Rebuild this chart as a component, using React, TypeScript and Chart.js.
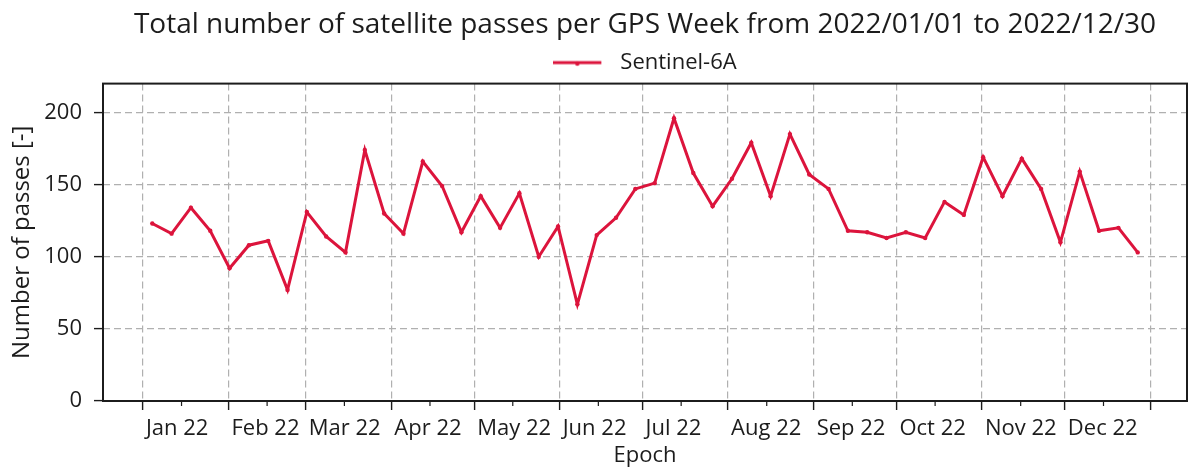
import React, { useEffect, useRef } from "react";
import { Chart, registerables } from "chart.js";

Chart.register(...registerables);

// GPS weeks covered (week 2191 starts on 2022-01-02)
const gpsWeeks = [
  2191, 2192, 2193, 2194, 2195, 2196, 2197, 2198, 2199, 2200,
  2201, 2202, 2203, 2204, 2205, 2206, 2207, 2208, 2209, 2210,
  2211, 2212, 2213, 2214, 2215, 2216, 2217, 2218, 2219, 2220,
  2221, 2222, 2223, 2224, 2225, 2226, 2227, 2228, 2229, 2230,
  2231, 2232, 2233, 2234, 2235, 2236, 2237, 2238, 2239, 2240,
  2241, 2242,
];

// Sentinel-6A passes per GPS week
const sentinel6aPasses = [
  123, 116, 134, 118, 92, 108, 111, 77, 131, 114,
  103, 174, 130, 116, 166, 149, 117, 142, 120, 144,
  100, 121, 67, 115, 127, 147, 151, 196, 158, 135,
  154, 179, 142, 185, 157, 147, 118, 117, 113, 117,
  113, 138, 129, 169, 142, 168, 147, 110, 159, 118,
  120, 103,
];

// x axis in days since 2022-01-01
const FIRST_WEEK = 2191;
const EPOCH_OFFSET_DAYS = 3.4; // plotted epoch of first week, days after 2022-01-01
const monthTickDays = [0, 31, 59, 90, 120, 151, 181, 212, 243, 273, 304, 334, 365];
const monthTickLabels = [
  "Jan 22", "Feb 22", "Mar 22", "Apr 22", "May 22", "Jun 22",
  "Jul 22", "Aug 22", "Sep 22", "Oct 22", "Nov 22", "Dec 22", "",
];
const minorTickDays = [14, 45, 73, 104, 134, 165, 195, 226, 257, 287, 318, 348];

const Y_MIN = 0;
const Y_MAX = 220;
const Y_STEP = 50;

const TITLE = "Total number of satellite passes per GPS Week from 2022/01/01 to 2022/12/30";
const SERIES_NAME = "Sentinel-6A";
const LINE_COLOR = "#dc143c";
const TEXT_COLOR = "#1c1c1c";
const FONT = "'Open Sans', 'Noto Sans', sans-serif";

function makeLegendGlyph(): HTMLCanvasElement {
  const c = document.createElement("canvas");
  c.width = 56;
  c.height = 12;
  const ctx = c.getContext("2d")!;
  ctx.strokeStyle = LINE_COLOR;
  ctx.lineWidth = 3;
  ctx.beginPath();
  ctx.moveTo(0, 6);
  ctx.lineTo(48, 6);
  ctx.stroke();
  ctx.fillStyle = LINE_COLOR;
  ctx.beginPath();
  ctx.arc(24, 7, 2.2, 0, Math.PI * 2);
  ctx.fill();
  return c;
}

const frameAndMinorTicks = {
  id: "frameAndMinorTicks",
  afterDraw(chart: any) {
    const { ctx, chartArea } = chart;
    const xScale = chart.scales.x;
    ctx.save();
    ctx.strokeStyle = TEXT_COLOR;
    ctx.lineWidth = 1.2;
    ctx.beginPath();
    for (const d of minorTickDays) {
      const px = xScale.getPixelForValue(d);
      if (px < chartArea.left || px > chartArea.right) continue;
      ctx.moveTo(px, chartArea.bottom);
      ctx.lineTo(px, chartArea.bottom + 5);
    }
    ctx.stroke();
    ctx.lineWidth = 2;
    ctx.strokeRect(chartArea.left, chartArea.top, chartArea.right - chartArea.left, chartArea.bottom - chartArea.top);
    ctx.restore();
  },
};

export default function App() {
  const canvasRef = useRef<HTMLCanvasElement | null>(null);

  useEffect(() => {
    let chart: Chart | null = null;
    let cancelled = false;
    const build = () => {
      if (cancelled || !canvasRef.current) return;
      const points = gpsWeeks.map((w, i) => ({
        x: (w - FIRST_WEEK) * 7 + EPOCH_OFFSET_DAYS,
        y: sentinel6aPasses[i],
      }));
      const xFirst = points[0].x;
      const xLast = points[points.length - 1].x;
      const margin = (xLast - xFirst) * 0.05;
      const glyph = makeLegendGlyph();

      chart = new Chart(canvasRef.current, {
        type: "line",
        data: {
          datasets: [
            {
              label: SERIES_NAME,
              data: points,
              borderColor: LINE_COLOR,
              backgroundColor: LINE_COLOR,
              borderWidth: 3,
              pointRadius: 2.2,
              pointBorderWidth: 0,
              pointBackgroundColor: LINE_COLOR,
              tension: 0,
              fill: false,
            },
          ],
        },
        options: {
          animation: false,
          responsive: true,
          maintainAspectRatio: false,
          layout: { padding: { left: 8, right: 5, top: 0, bottom: 0 } },
          plugins: {
            title: {
              display: true,
              text: TITLE,
              fullSize: false,
              color: TEXT_COLOR,
              font: { family: FONT, size: 28, weight: "normal" },
              padding: { top: 8, bottom: 0 },
            },
            legend: {
              display: true,
              fullSize: false,
              position: "top",
              labels: {
                color: TEXT_COLOR,
                font: { family: FONT, size: 22 },
                usePointStyle: true,
                pointStyleWidth: 56,
                padding: 10,
                generateLabels: (c: any) => {
                  const items = (Chart as any).defaults.plugins.legend.labels.generateLabels(c);
                  return items.map((it: any) => ({ ...it, pointStyle: glyph }));
                },
              },
            },
            tooltip: { enabled: false },
          },
          scales: {
            x: {
              type: "linear",
              min: xFirst - margin,
              max: xLast + margin,
              afterBuildTicks: (scale: any) => {
                scale.ticks = monthTickDays.map((v) => ({ value: v }));
              },
              afterFit: (scale: any) => {
                scale.height = 69;
              },
              ticks: {
                autoSkip: false,
                maxRotation: 0,
                minRotation: 0,
                align: "start",
                labelOffset: 3,
                padding: 6,
                color: TEXT_COLOR,
                font: { family: FONT, size: 22 },
                callback: (_v: any, i: number) => monthTickLabels[i] ?? "",
              },
              grid: {
                color: "#b0b0b0",
                lineWidth: 1.2,
                drawTicks: true,
                tickLength: 9,
                tickColor: TEXT_COLOR,
                tickWidth: 1.4,
                tickBorderDash: [],
              },
              border: { display: false, dash: [7, 4] },
              title: {
                display: true,
                text: "Epoch",
                color: TEXT_COLOR,
                font: { family: FONT, size: 22 },
                padding: { top: 0, bottom: 1 },
              },
            },
            y: {
              type: "linear",
              min: Y_MIN,
              max: Y_MAX,
              afterFit: (scale: any) => {
                scale.width = 95;
              },
              ticks: {
                stepSize: Y_STEP,
                includeBounds: false,
                padding: 12,
                color: TEXT_COLOR,
                font: { family: FONT, size: 22 },
              },
              grid: {
                color: "#b0b0b0",
                lineWidth: 1.2,
                drawTicks: true,
                tickLength: 9,
                tickColor: TEXT_COLOR,
                tickWidth: 1.4,
                tickBorderDash: [],
              },
              border: { display: false, dash: [7, 4] },
              title: {
                display: true,
                text: "Number of passes [-]",
                color: TEXT_COLOR,
                font: { family: FONT, size: 24 },
                padding: { top: 0, bottom: 0 },
              },
            },
          },
        },
        plugins: [frameAndMinorTicks],
      });
    };

    const fontsReady = (document as any).fonts
      ? Promise.all([
          (document as any).fonts.load("22px 'Open Sans'"),
          (document as any).fonts.load("28px 'Open Sans'"),
        ]).catch(() => null)
      : Promise.resolve(null);
    fontsReady.then(build);

    return () => {
      cancelled = true;
      if (chart) chart.destroy();
    };
  }, []);

  return (
    <div style={{ position: "fixed", left: 0, top: 0, width: 1192, height: 470, background: "#ffffff" }}>
      <canvas ref={canvasRef} />
    </div>
  );
}
